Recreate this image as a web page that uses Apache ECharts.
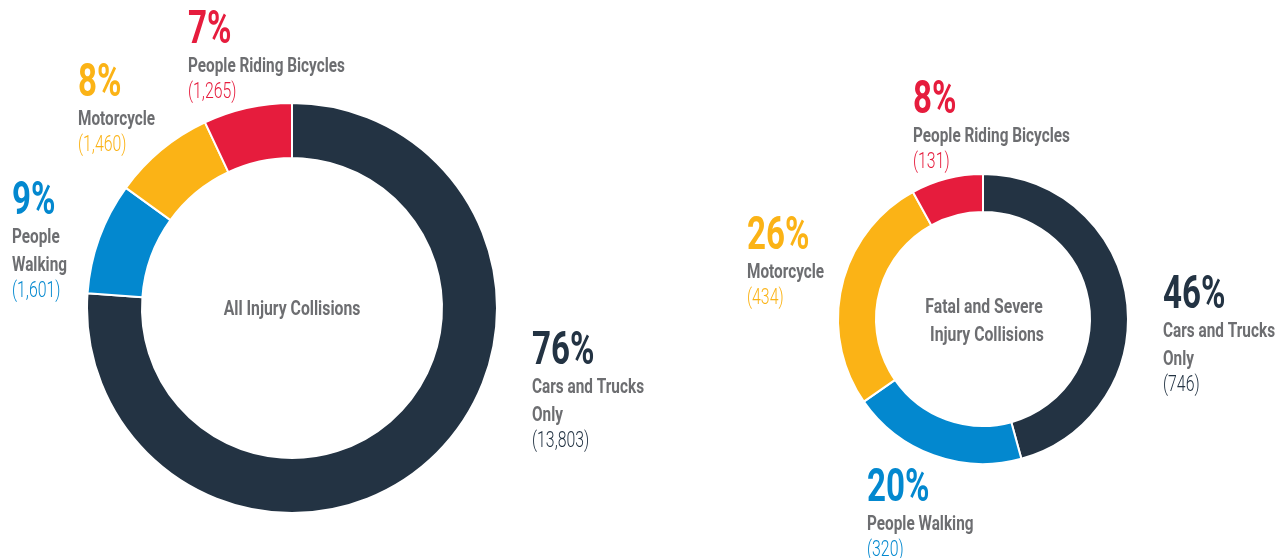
<!DOCTYPE html>
<html>
<head>
<meta charset="utf-8">
<script src="https://cdn.jsdelivr.net/npm/echarts@6/dist/echarts.min.js"></script>
<style>
  html, body { margin: 0; padding: 0; background: #fff; }
  #main { width: 1283px; height: 558px; }
</style>
</head>
<body>
<div id="main"></div>
<script>
// categories, clockwise from 12 o'clock
const categories = ['Cars and Trucks Only', 'People Walking', 'Motorcycle', 'People Riding Bicycles'];
const colors = ['#233343', '#0388cf', '#fbb316', '#e61c3d'];

// all injury collisions
const allInjury = [13803, 1601, 1460, 1265];
const allInjuryPct = [76, 9, 8, 7];
const allInjuryNames = ['Cars and Trucks\nOnly', 'People\nWalking', 'Motorcycle', 'People Riding Bicycles'];

// fatal and severe injury collisions
const fatalSevere = [746, 320, 434, 131];
const fatalSeverePct = [46, 20, 26, 8];
const fatalSevereNames = ['Cars and Trucks\nOnly', 'People Walking', 'Motorcycle', 'People Riding Bicycles'];

const FONT = "Roboto, 'Noto Sans', sans-serif";
const GRAY = '#6d6e71';
const SX = 0.72;      // narrow the glyphs like the original condensed face
const SX_NAME = 0.73;
const SX_CENTER = 0.75;

// label anchors: left edge, top of the percent glyphs
const leftLabelPos = [[532, 333], [12, 183], [78, 65], [188, 12]];
const rightLabelPos = [[1163, 277], [867, 470], [747, 218], [913, 82]];

function txt(text, y, font, color, sx) {
  return {
    type: 'text',
    x: 0, y: y, scaleX: sx,
    style: { text: text, font: font, fill: color, align: 'left', verticalAlign: 'top' },
    silent: true
  };
}

// one label block: big percent, name lines, value in brackets
function labelBlock(pos, pct, name, value, color) {
  const kids = [];
  kids.push(txt(pct + '%', -4, 'bold 46px ' + FONT, color, SX));
  const lines = name.split('\n');
  let y = 44;
  lines.forEach(function (s, k) {
    kids.push(txt(s, y + k * 28, 'bold 21px ' + FONT, GRAY, SX_NAME));
  });
  y = y + (lines.length - 1) * 28 + 25;
  kids.push(txt('(' + value.toLocaleString('en-US') + ')', y, '300 22px ' + FONT, color, SX));
  return { type: 'group', x: pos[0], y: pos[1], children: kids };
}

function labels(values, pct, names, pos) {
  return values.map(function (v, i) {
    return labelBlock(pos[i], pct[i], names[i], v, colors[i]);
  });
}

function centerText(text, x, y) {
  return {
    type: 'group', x: x, y: y, scaleX: SX_CENTER,
    children: [{
      type: 'text', x: 0, y: 0, silent: true,
      style: { text: text, font: 'bold 21px ' + FONT, fill: GRAY, align: 'center', verticalAlign: 'middle' }
    }]
  };
}

function pieSeries(name, values, center, radius) {
  return {
    name: name,
    type: 'pie',
    center: center,
    radius: radius,
    startAngle: 90,
    clockwise: true,
    silent: true,
    itemStyle: { borderColor: '#fff', borderWidth: 2 },
    label: { show: false },
    labelLine: { show: false },
    emphasis: { disabled: true },
    data: values.map(function (v, i) {
      return { name: categories[i], value: v, itemStyle: { color: colors[i] } };
    })
  };
}

const myChart = echarts.init(document.getElementById('main'));
const option = {
  animation: false,
  backgroundColor: '#fff',
  graphic: [
    centerText('All Injury Collisions', 292, 310),
    centerText('Fatal and Severe', 984, 308),
    centerText('Injury Collisions', 987, 336)
  ].concat(labels(allInjury, allInjuryPct, allInjuryNames, leftLabelPos))
   .concat(labels(fatalSevere, fatalSeverePct, fatalSevereNames, rightLabelPos)),
  series: [
    pieSeries('All Injury Collisions', allInjury, [292, 308], [150, 205]),
    pieSeries('Fatal and Severe Injury Collisions', fatalSevere, [983, 319], [107, 145])
  ]
};
myChart.setOption(option);
</script>
</body>
</html>
